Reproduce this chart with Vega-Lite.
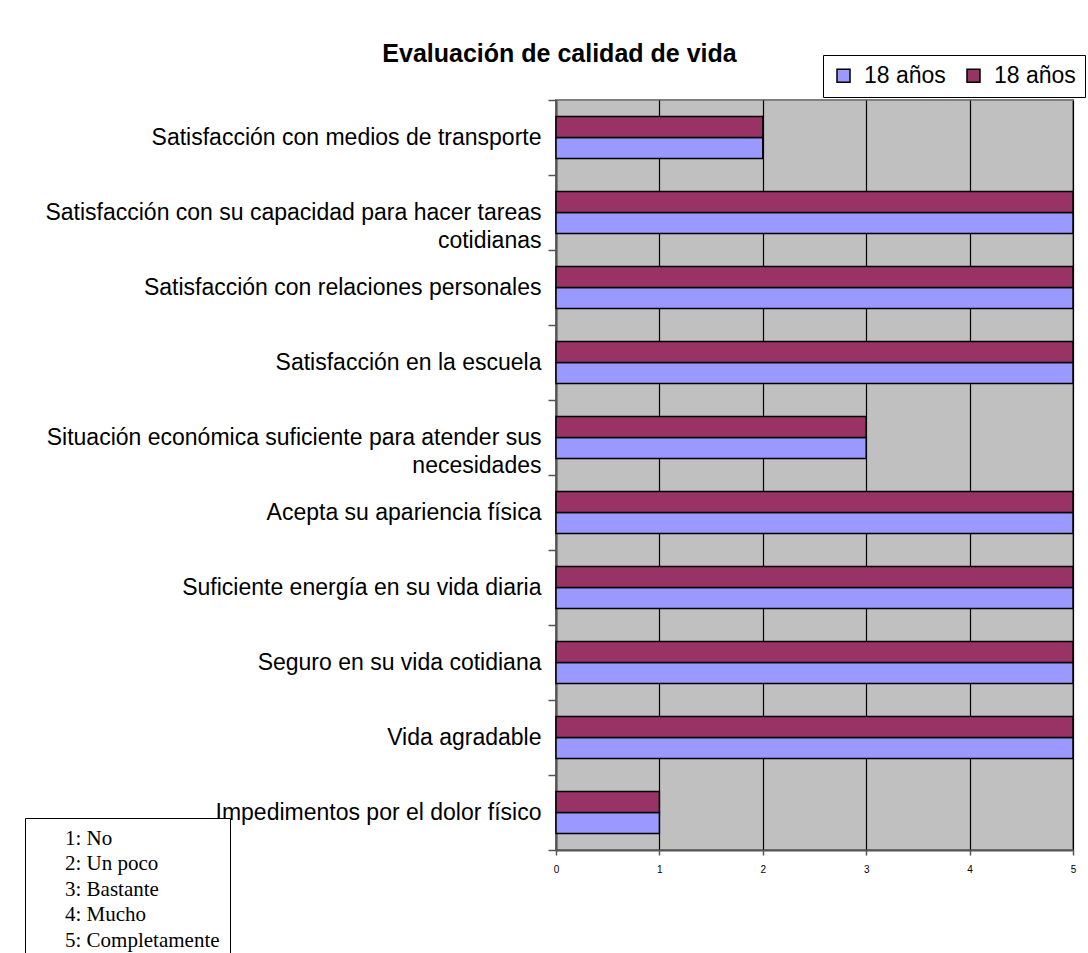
{
  "$schema": "https://vega.github.io/schema/vega-lite/v6.json",
  "width": 517,
  "height": 750,
  "autosize": {"type": "none"},
  "padding": {"left": 556, "top": 100, "right": 15, "bottom": 103},
  "background": "white",
  "view": {"fill": "#C0C0C0", "stroke": "#808080", "strokeWidth": 2},
  "title": {
    "text": "Evaluación de calidad de vida",
    "font": "Liberation Sans",
    "fontSize": 25,
    "fontWeight": "bold",
    "color": "black",
    "anchor": "middle",
    "dx": -255,
    "dy": 48,
    "offset": 36
  },
  "layer": [
    {
      "data": {
        "values": [
          {"aspecto": "Satisfacción con medios de transporte", "serie": "A", "valor": 2},
          {"aspecto": "Satisfacción con medios de transporte", "serie": "B", "valor": 2},
          {"aspecto": "Satisfacción con su capacidad para hacer tareas cotidianas", "serie": "A", "valor": 5},
          {"aspecto": "Satisfacción con su capacidad para hacer tareas cotidianas", "serie": "B", "valor": 5},
          {"aspecto": "Satisfacción con relaciones personales", "serie": "A", "valor": 5},
          {"aspecto": "Satisfacción con relaciones personales", "serie": "B", "valor": 5},
          {"aspecto": "Satisfacción en la escuela", "serie": "A", "valor": 5},
          {"aspecto": "Satisfacción en la escuela", "serie": "B", "valor": 5},
          {"aspecto": "Situación económica suficiente para atender sus necesidades", "serie": "A", "valor": 3},
          {"aspecto": "Situación económica suficiente para atender sus necesidades", "serie": "B", "valor": 3},
          {"aspecto": "Acepta su apariencia física", "serie": "A", "valor": 5},
          {"aspecto": "Acepta su apariencia física", "serie": "B", "valor": 5},
          {"aspecto": "Suficiente energía en su vida diaria", "serie": "A", "valor": 5},
          {"aspecto": "Suficiente energía en su vida diaria", "serie": "B", "valor": 5},
          {"aspecto": "Seguro en su vida cotidiana", "serie": "A", "valor": 5},
          {"aspecto": "Seguro en su vida cotidiana", "serie": "B", "valor": 5},
          {"aspecto": "Vida agradable", "serie": "A", "valor": 5},
          {"aspecto": "Vida agradable", "serie": "B", "valor": 5},
          {"aspecto": "Impedimentos por el dolor físico", "serie": "A", "valor": 1},
          {"aspecto": "Impedimentos por el dolor físico", "serie": "B", "valor": 1}
        ]
      },
      "mark": {"type": "bar", "stroke": "black", "strokeWidth": 1.5},
      "encoding": {
        "y": {
          "field": "aspecto",
          "type": "nominal",
          "sort": null,
          "scale": {"paddingInner": 0, "paddingOuter": 0},
          "axis": {
            "title": null,
            "tickBand": "extent",
            "ticks": true,
            "tickSize": 8,
            "tickColor": "#555555",
            "tickWidth": 1.5,
            "domainColor": "#555555",
            "domainWidth": 2,
            "grid": false,
            "labelFont": "Liberation Sans",
            "labelFontSize": 23,
            "labelColor": "black",
            "labelLimit": 700,
            "labelLineHeight": 28,
            "labelBaseline": "middle",
            "labelAlign": "right",
            "labelPadding": 7,
            "labelExpr": "datum.value == 'Satisfacción con su capacidad para hacer tareas cotidianas' ? ['Satisfacción con su capacidad para hacer tareas', 'cotidianas'] : datum.value == 'Situación económica suficiente para atender sus necesidades' ? ['Situación económica suficiente para atender sus', 'necesidades'] : datum.label"
          }
        },
        "x": {
          "field": "valor",
          "type": "quantitative",
          "scale": {"domain": [0, 5], "nice": false},
          "axis": {
            "title": null,
            "values": [0, 1, 2, 3, 4, 5],
            "tickSize": 5,
            "tickColor": "#555555",
            "tickWidth": 1.5,
            "domainColor": "#555555",
            "domainWidth": 2,
            "labelFont": "Liberation Sans",
            "labelFontSize": 10,
            "labelColor": "black",
            "labelPadding": 9,
            "labelFlush": false,
            "grid": true,
            "gridColor": "black",
            "gridWidth": 1.2,
            "gridOpacity": 1
          }
        },
        "yOffset": {
          "field": "serie",
          "type": "nominal",
          "scale": {"domain": ["B", "A"], "paddingInner": 0, "paddingOuter": 0.786}
        },
        "color": {
          "field": "serie",
          "type": "nominal",
          "scale": {"domain": ["A", "B"], "range": ["#9999FF", "#993366"]},
          "legend": {
            "title": null,
            "orient": "none",
            "legendX": 267,
            "legendY": -45,
            "direction": "horizontal",
            "labelExpr": "'18 años'",
            "labelFont": "Liberation Sans",
            "labelFontSize": 23,
            "labelColor": "black",
            "symbolType": "square",
            "symbolSize": 169,
            "symbolStrokeColor": "black",
            "symbolStrokeWidth": 1.5,
            "symbolOpacity": 1,
            "labelOffset": 9,
            "columnPadding": 16,
            "padding": 9,
            "fillColor": "white",
            "strokeColor": "black"
          }
        }
      }
    },
    {
      "data": {
        "values": [
          {"escala": "1: No"},
          {"escala": "2: Un poco"},
          {"escala": "3: Bastante"},
          {"escala": "4: Mucho"},
          {"escala": "5: Completamente"}
        ]
      },
      "mark": {"type": "point", "opacity": 0},
      "encoding": {
        "shape": {
          "field": "escala",
          "type": "nominal",
          "legend": {
            "title": null,
            "orient": "none",
            "legendX": -531,
            "legendY": 718,
            "labelFont": "Liberation Serif",
            "labelFontSize": 21,
            "labelColor": "black",
            "labelLimit": 400,
            "symbolSize": 4,
            "symbolOpacity": 0,
            "labelOffset": 9,
            "rowPadding": 3.5,
            "padding": 10,
            "fillColor": "white",
            "strokeColor": "black",
            "labelExpr": "datum.label"
          }
        }
      }
    }
  ]
}
